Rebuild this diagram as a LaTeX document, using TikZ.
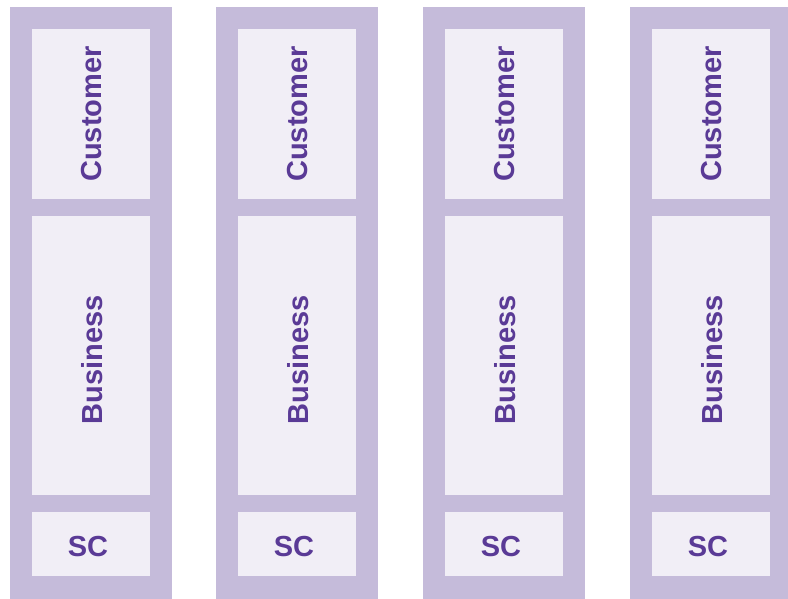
\documentclass[tikz,border=0pt]{standalone}
\usepackage{fontspec}
\setmainfont{Liberation Sans}
\usepackage{xcolor}
\usepackage{tikz}
\usetikzlibrary{positioning}

\definecolor{frameviolet}{HTML}{C5BBDA}
\definecolor{paleviolet}{HTML}{F1EEF6}
\definecolor{textviolet}{HTML}{5A3A96}

\begin{document}
\begin{tikzpicture}[x=1pt, y=-1pt,
    lbl/.style={text=textviolet, font=\bfseries\fontsize{29}{32}\selectfont, inner sep=0pt}]
    \useasboundingbox (0,0) rectangle (788,599);
    % Bốn cột giống nhau
    \foreach \i/\x in {1/10, 2/216, 3/423, 4/630} {
        \fill[frameviolet] (\x,7) rectangle ++(162,600);
        % ô bên trong
        \fill[paleviolet] (\x+22,29) rectangle (\x+140,199);
        \fill[paleviolet] (\x+22,216) rectangle (\x+140,495);
        \fill[paleviolet] (\x+22,512) rectangle (\x+140,576);
        \node[lbl, rotate=90] (cust\i) at (\x+82,114) {Customer};
        \node[lbl, rotate=90] (bus\i) at (\x+82,360) {Business};
        \node[lbl] (sc\i) at (\x+78,547) {SC};
    }
\end{tikzpicture}
\end{document}
